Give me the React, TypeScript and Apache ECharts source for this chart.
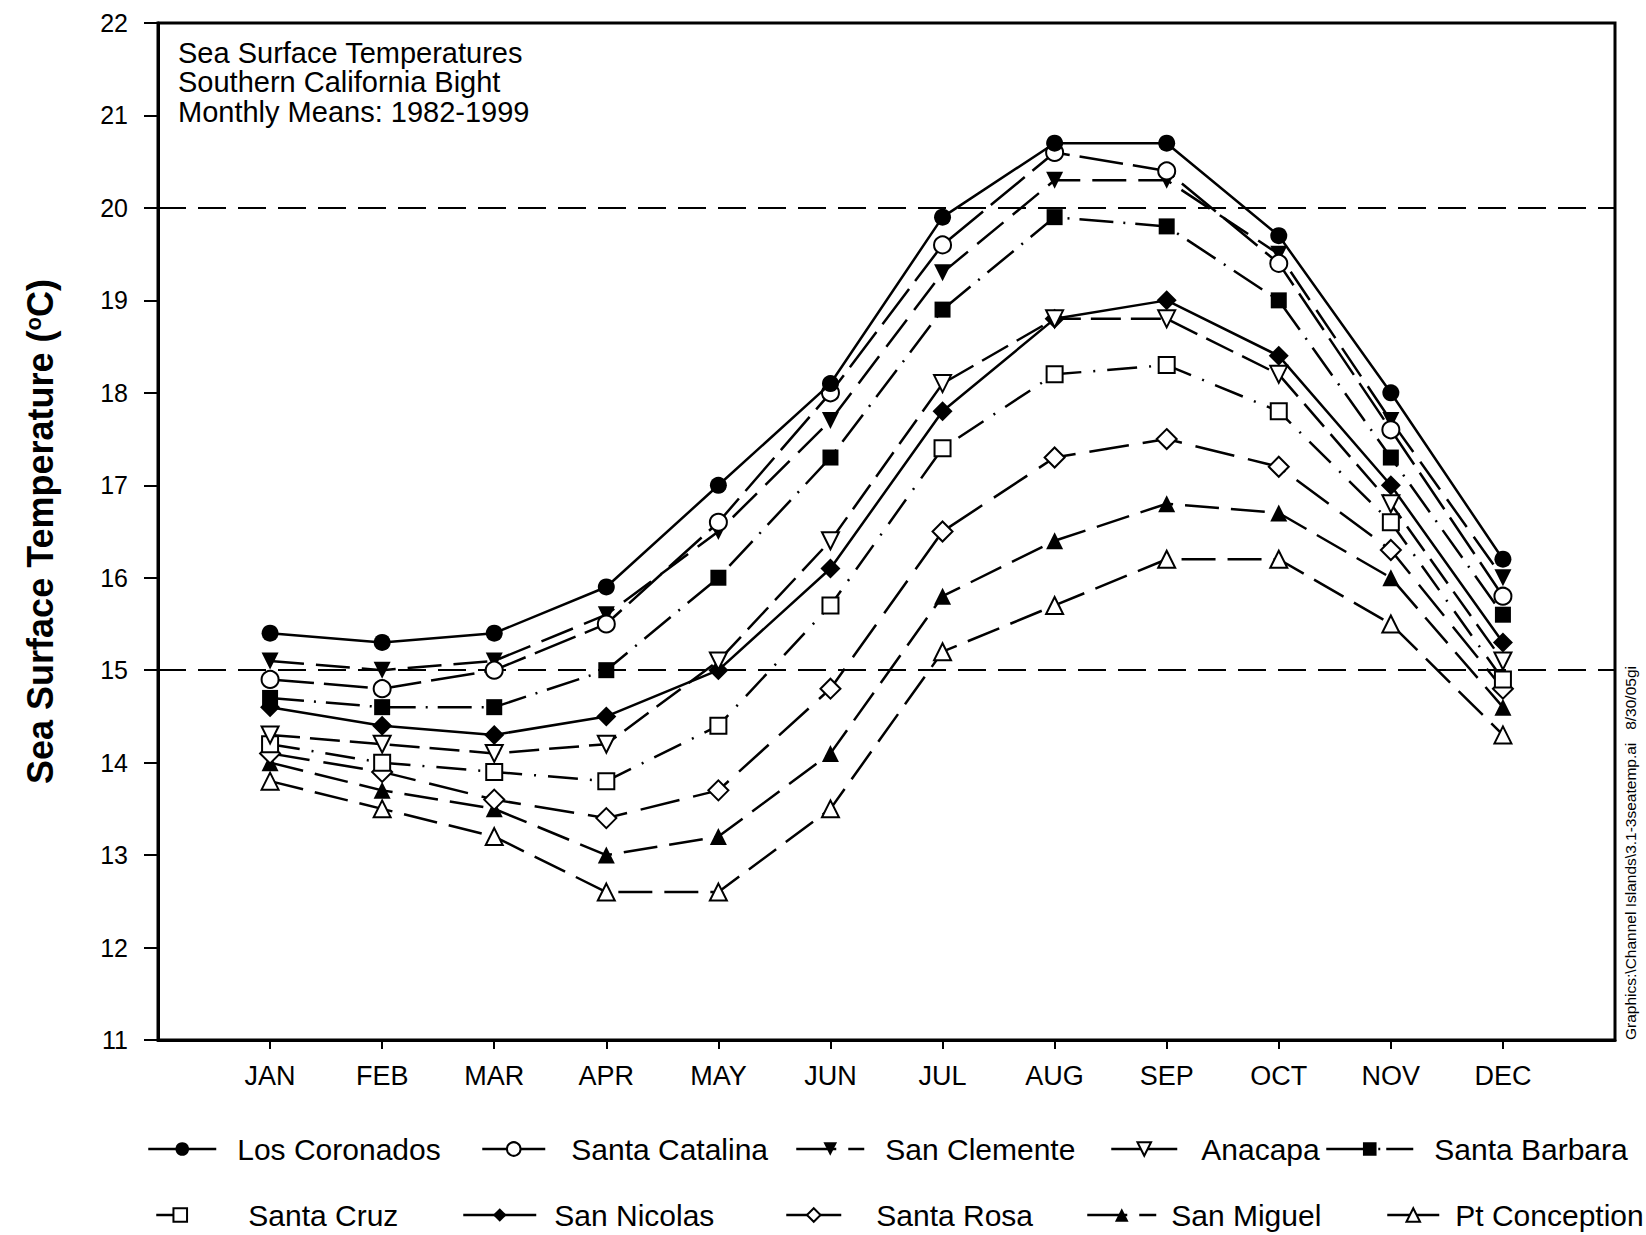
import React, { useEffect, useRef } from "react";
import * as echarts from "echarts";

const months = ["JAN", "FEB", "MAR", "APR", "MAY", "JUN", "JUL", "AUG", "SEP", "OCT", "NOV", "DEC"];
const monthPositions = [1, 2, 3, 4, 5, 6, 7, 8, 9, 10, 11, 12];

const losCoronados = [15.4, 15.3, 15.4, 15.9, 17.0, 18.1, 19.9, 20.7, 20.7, 19.7, 18.0, 16.2];
const santaCatalina = [14.9, 14.8, 15.0, 15.5, 16.6, 18.0, 19.6, 20.6, 20.4, 19.4, 17.6, 15.8];
const sanClemente = [15.1, 15.0, 15.1, 15.6, 16.5, 17.7, 19.3, 20.3, 20.3, 19.5, 17.7, 16.0];
const anacapa = [14.3, 14.2, 14.1, 14.2, 15.1, 16.4, 18.1, 18.8, 18.8, 18.2, 16.8, 15.1];
const santaBarbara = [14.7, 14.6, 14.6, 15.0, 16.0, 17.3, 18.9, 19.9, 19.8, 19.0, 17.3, 15.6];
const santaCruz = [14.2, 14.0, 13.9, 13.8, 14.4, 15.7, 17.4, 18.2, 18.3, 17.8, 16.6, 14.9];
const sanNicolas = [14.6, 14.4, 14.3, 14.5, 15.0, 16.1, 17.8, 18.8, 19.0, 18.4, 17.0, 15.3];
const santaRosa = [14.1, 13.9, 13.6, 13.4, 13.7, 14.8, 16.5, 17.3, 17.5, 17.2, 16.3, 14.8];
const sanMiguel = [14.0, 13.7, 13.5, 13.0, 13.2, 14.1, 15.8, 16.4, 16.8, 16.7, 16.0, 14.6];
const ptConception = [13.8, 13.5, 13.2, 12.6, 12.6, 13.5, 15.2, 15.7, 16.2, 16.2, 15.5, 14.3];

const referenceLines = [20, 15];

const titleText = "Sea Surface Temperatures\nSouthern California Bight\nMonthly Means: 1982-1999";
const sideText = "Graphics:\\Channel Islands\\3.1-3seatemp.ai   8/30/05gi";

const FONT = "'Liberation Sans', Arial, Helvetica, sans-serif";

const seriesDefs = [
  { name: "Los Coronados", data: losCoronados, symbol: "circle", filled: true, rotate: 0, dash: "solid" as any, legendDash: "solid" as any },
  { name: "Santa Catalina", data: santaCatalina, symbol: "circle", filled: false, rotate: 0, dash: [44, 10], legendDash: "solid" as any },
  { name: "San Clemente", data: sanClemente, symbol: "triangle", filled: true, rotate: 180, dash: [34, 12], legendDash: [40, 12] },
  { name: "Anacapa", data: anacapa, symbol: "triangle", filled: false, rotate: 180, dash: [30, 10], legendDash: "solid" as any },
  { name: "Santa Barbara", data: santaBarbara, symbol: "rect", filled: true, rotate: 0, dash: [34, 10, 2, 10], legendDash: [46, 6, 2, 6] },
  { name: "Santa Cruz", data: santaCruz, symbol: "rect", filled: false, rotate: 0, dash: [30, 12, 2, 12], legendDash: [20, 100] },
  { name: "San Nicolas", data: sanNicolas, symbol: "diamond", filled: true, rotate: 0, dash: "solid" as any, legendDash: "solid" as any },
  { name: "Santa Rosa", data: santaRosa, symbol: "diamond", filled: false, rotate: 0, dash: [40, 14], legendDash: "solid" as any },
  { name: "San Miguel", data: sanMiguel, symbol: "triangle", filled: true, rotate: 0, dash: [34, 12], legendDash: [40, 12] },
  { name: "Pt Conception", data: ptConception, symbol: "triangle", filled: false, rotate: 0, dash: [34, 12], legendDash: "solid" as any },
];

const legendLayout = [
  { left: 147, top: 1134, w: 68, gap: 16 },
  { left: 481, top: 1134, w: 63, gap: 21 },
  { left: 795, top: 1134, w: 68, gap: 16 },
  { left: 1110, top: 1134, w: 66, gap: 19 },
  { left: 1325, top: 1134, w: 87, gap: 16 },
  { left: 155, top: 1200, w: 48, gap: 39 },
  { left: 462, top: 1200, w: 73, gap: 13 },
  { left: 785, top: 1200, w: 55, gap: 30 },
  { left: 1086, top: 1200, w: 69, gap: 10 },
  { left: 1386, top: 1200, w: 52, gap: 11 },
];

export default function App() {
  const ref = useRef<HTMLDivElement>(null);
  useEffect(() => {
    if (!ref.current) return;
    const chart = echarts.init(ref.current, undefined, { renderer: "svg" });
    const series: any[] = seriesDefs.map((s, idx) => ({
      name: s.name,
      type: "line",
      data: s.data.map((v, i) => [monthPositions[i], v]),
      symbol: s.symbol,
      symbolSize: s.symbol === "diamond" ? 20 : s.symbol === "rect" ? 16 : 17,
      symbolRotate: s.rotate,
      showSymbol: true,
      z: 10 - idx,
      lineStyle: { color: "#000", width: 2.5, type: s.dash },
      itemStyle: {
        color: s.filled ? "#000" : "#fff",
        borderColor: "#000",
        borderWidth: s.filled ? 0 : 2,
        opacity: 1,
      },
      emphasis: { disabled: true },
      markLine:
        idx === 0
          ? {
              silent: true,
              symbol: ["none", "none"],
              label: { show: false },
              lineStyle: { color: "#000", width: 2, type: [28, 12] },
              data: referenceLines.map((y) => ({ yAxis: y })),
            }
          : undefined,
    }));

    const legends = seriesDefs.map((s, i) => ({
      data: [s.name],
      left: legendLayout[i].left,
      top: legendLayout[i].top,
      itemWidth: legendLayout[i].w,
      itemHeight: 17,
      padding: 0,
      selectedMode: false,
      lineStyle: { type: s.legendDash, width: 2.5, color: "#000" },
      textStyle: {
        fontSize: 30,
        color: "#000",
        fontFamily: FONT,
        padding: [0, 0, 0, legendLayout[i].gap],
      },
    }));

    chart.setOption({
      animation: false,
      backgroundColor: "#fff",
      title: {
        text: titleText,
        left: 178,
        top: 38,
        padding: 0,
        textStyle: { fontSize: 29, fontWeight: "normal", lineHeight: 29.5, color: "#000", fontFamily: FONT },
      },
      legend: legends,
      grid: {
        left: 158,
        top: 23,
        width: 1457,
        height: 1017,
        show: true,
        borderColor: "#000",
        borderWidth: 3,
        backgroundColor: "transparent",
      },
      xAxis: {
        type: "value",
        min: 0,
        max: 13,
        interval: 1,
        axisLine: { show: true, onZero: false, lineStyle: { color: "#000", width: 3 } },
        axisTick: { show: true, length: 9, customValues: monthPositions, lineStyle: { color: "#000", width: 2 } },
        axisLabel: {
          customValues: monthPositions,
          formatter: (v: number) => months[v - 1] ?? "",
          fontSize: 27,
          color: "#000",
          fontFamily: FONT,
          margin: 22,
        },
        splitLine: { show: false },
      },
      yAxis: {
        type: "value",
        min: 11,
        max: 22,
        interval: 1,
        name: "Sea Surface Temperature ({sup|o}C)",
        nameLocation: "middle",
        nameRotate: 90,
        nameGap: 100,
        nameTextStyle: {
          fontSize: 36,
          fontWeight: "bold",
          color: "#000",
          fontFamily: FONT,
          rich: {
            sup: { fontSize: 22, fontWeight: "bold", color: "#000", fontFamily: FONT, verticalAlign: "top", padding: [0, 0, 14, 0] },
          },
        },
        axisLine: { show: true, lineStyle: { color: "#000", width: 3 } },
        axisTick: { show: true, length: 14, lineStyle: { color: "#000", width: 2 } },
        axisLabel: { fontSize: 25, color: "#000", fontFamily: FONT, margin: 30 },
        splitLine: { show: false },
      },
      graphic: [
        {
          type: "text",
          x: 1630,
          y: 853,
          rotation: Math.PI / 2,
          style: {
            text: sideText,
            fontSize: 15.5,
            fontFamily: FONT,
            fill: "#000",
            align: "center",
            verticalAlign: "middle",
          },
        },
      ],
      series,
    });
    return () => chart.dispose();
  }, []);
  return (
    <div
      ref={ref}
      style={{ position: "fixed", left: 0, top: 0, width: 1646, height: 1235, background: "#fff" }}
    />
  );
}
